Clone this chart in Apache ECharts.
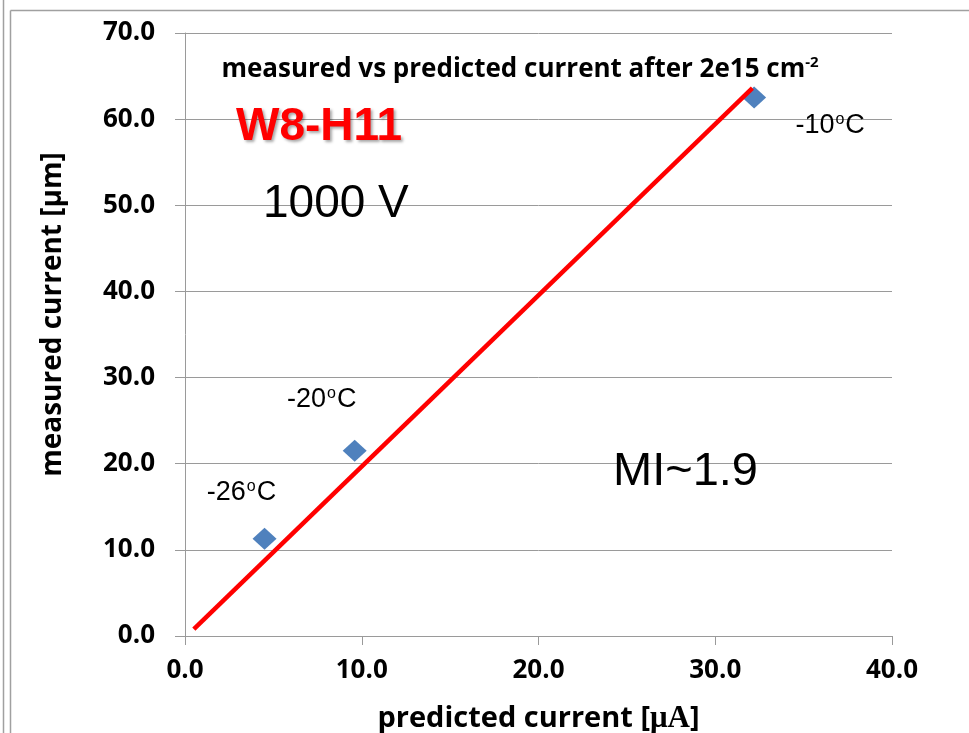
<!DOCTYPE html>
<html>
<head>
<meta charset="utf-8">
<script src="https://cdn.jsdelivr.net/npm/echarts@6/dist/echarts.min.js"></script>
<style>
  html, body { margin: 0; padding: 0; background: #fff; }
  #chart { width: 969px; height: 733px; }
</style>
</head>
<body>
<div id="chart"></div>
<script>
// Measured vs predicted leakage current, sensor W8-H11 at 1000 V
const temperatures = ['-26', '-20', '-10'];
const predicted = [4.5, 9.6, 32.2];
const measured = [11.3, 21.5, 62.5];
// Fitted trend (MI ~ 1.9), endpoints
const fitX = [0.5, 32.1];
const fitY = [0.8, 63.6];
const xTicks = [0, 10, 20, 30, 40];
const yTicks = [0, 10, 20, 30, 40, 50, 60, 70];

const labelOffsets = [[-23, -46], [-33, -51], [76, 28]];

const chart = echarts.init(document.getElementById('chart'), null, { renderer: 'canvas' });

const calibriLike = '"Open Sans", "DejaVu Sans", sans-serif';
const arialLike = '"Liberation Sans", Arial, sans-serif';

const points = predicted.map((x, i) => ({
  value: [x, measured[i]],
  label: {
    show: true,
    offset: labelOffsets[i],
    position: 'inside',
    formatter: temperatures[i] + '{sup|o}C',
    fontFamily: arialLike,
    fontSize: 27,
    color: '#000',
    opacity: 1,
    rich: {
      sup: { fontFamily: arialLike, fontSize: 16, verticalAlign: 'top', padding: [0, 1, 12, 1], color: '#000' }
    }
  }
}));

const option = {
  animation: false,
  backgroundColor: '#fff',
  grid: { left: 185, right: 77, top: 33, bottom: 97, outerBoundsMode: 'none', containLabel: false },
  title: {
    text: 'measured vs predicted current after 2e15 cm{sup|-2}',
    left: 515, top: 50, textAlign: 'center',
    textStyle: {
      fontFamily: calibriLike, fontWeight: 'bold', fontSize: 26, color: '#000',
      rich: {
        sup: { fontFamily: calibriLike, fontWeight: 'bold', fontSize: 15, verticalAlign: 'top', padding: [0, 0, 14, 0], color: '#000' }
      }
    }
  },
  xAxis: {
    type: 'value',
    min: xTicks[0], max: xTicks[xTicks.length - 1], interval: 10,
    name: 'predicted current [{mu|μA}]',
    nameLocation: 'middle', nameGap: 67,
    nameTextStyle: {
      fontFamily: calibriLike, fontWeight: 'bold', fontSize: 29, color: '#000',
      rich: { mu: { fontFamily: '"Liberation Serif", serif', fontSize: 31, color: '#000' } }
    },
    axisLine: { show: true, onZero: false, lineStyle: { color: '#9a9a9a', width: 1 } },
    axisTick: { show: true, length: 9, lineStyle: { color: '#9a9a9a' } },
    splitLine: { show: false },
    axisLabel: {
      margin: 22, fontFamily: calibriLike, fontWeight: 'bold', fontSize: 26, color: '#000',
      formatter: v => v.toFixed(1)
    }
  },
  yAxis: {
    type: 'value',
    min: yTicks[0], max: yTicks[yTicks.length - 1], interval: 10,
    name: 'measured current [μm]',
    nameLocation: 'middle', nameGap: 118,
    nameTextStyle: {
      fontFamily: calibriLike, fontWeight: 'bold', fontSize: 28, color: '#000',
      padding: [0, 0, 0, 40]
    },
    axisLine: { show: true, onZero: false, lineStyle: { color: '#9a9a9a', width: 1 } },
    axisTick: { show: true, length: 10, lineStyle: { color: '#9a9a9a' } },
    splitLine: { show: true, lineStyle: { color: '#9a9a9a', width: 1 } },
    axisLabel: {
      margin: 30, fontFamily: calibriLike, fontWeight: 'bold', fontSize: 26, color: '#000',
      formatter: v => v.toFixed(1)
    }
  },
  series: [
    {
      type: 'scatter',
      symbol: 'diamond',
      symbolSize: [24, 22],
      itemStyle: { color: '#4F81BD', opacity: 1 },
      data: points,
      z: 2
    },
    {
      type: 'line',
      data: fitX.map((x, i) => [x, fitY[i]]),
      showSymbol: false,
      symbol: 'none',
      lineStyle: { color: '#FF0000', width: 4.5 },
      z: 3
    }
  ],
  graphic: [
    // page frame
    { type: 'line', shape: { x1: 3.5, y1: 0, x2: 3.5, y2: 733 }, style: { stroke: '#a0a0a0', lineWidth: 1.5 } },
    { type: 'line', shape: { x1: 10.5, y1: 10.5, x2: 10.5, y2: 733 }, style: { stroke: '#a0a0a0', lineWidth: 1.5 } },
    { type: 'line', shape: { x1: 10.5, y1: 10.5, x2: 969, y2: 10.5 }, style: { stroke: '#a0a0a0', lineWidth: 1.5 } },
    {
      type: 'text', left: 236, top: 104, z: 10,
      style: {
        text: 'W8-H11', fontFamily: arialLike, fontWeight: 'bold', fontSize: 46, fill: '#FF0000',
        textShadowColor: 'rgba(0,0,0,0.35)', textShadowBlur: 3, textShadowOffsetX: 2, textShadowOffsetY: 2
      }
    },
    {
      type: 'text', left: 263, top: 181, z: 10,
      style: { text: '1000 V', fontFamily: arialLike, fontSize: 46, fill: '#000' }
    },
    {
      type: 'text', left: 613, top: 449, z: 10,
      style: { text: 'MI~1.9', fontFamily: arialLike, fontSize: 47, fill: '#000' }
    }
  ]
};

chart.setOption(option);
</script>
</body>
</html>
